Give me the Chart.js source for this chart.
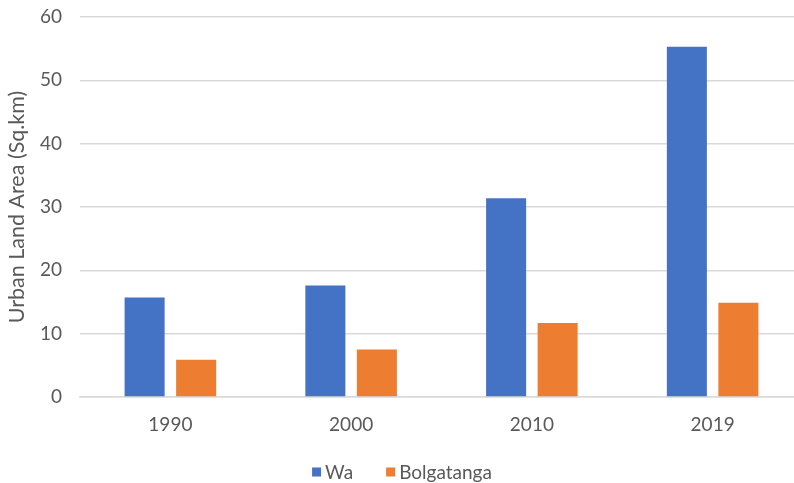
<!DOCTYPE html>
<html>
<head>
<meta charset="utf-8">
<script src="https://cdn.jsdelivr.net/npm/chart.js@4"></script>
<style>
  html, body { margin: 0; padding: 0; background: #ffffff; overflow: hidden; }
  #wrap { width: 794px; height: 483px; overflow: hidden; position: relative; }
  #box { width: 812px; height: 483px; position: absolute; left: 0; top: 0; }
</style>
</head>
<body>
<div id="wrap"><div id="box"><canvas id="chart"></canvas></div></div>
<script>
// Urban land area by town and year
const years = ['1990', '2000', '2010', '2019'];
const wa = [15.7, 17.6, 31.4, 55.3];
const bolgatanga = [5.9, 7.5, 11.7, 14.9];
const yTicks = [0, 10, 20, 30, 40, 50, 60];

const textColor = '#595959';
const gridColor = '#d9d9d9';
const fontFamily = 'Lato, "Open Sans", sans-serif';
const tickFont = { family: fontFamily, size: 19 };

// Compact legend row under the axis: small square, short gap, label
const bottomLegend = {
  id: 'bottomLegend',
  afterDraw(chart) {
    const ctx = chart.ctx;
    const box = 9, gap = 4, spacing = 33, y = 472;
    ctx.save();
    ctx.font = `${tickFont.size}px ${fontFamily}`;
    ctx.textBaseline = 'middle';
    ctx.textAlign = 'left';
    const items = chart.data.datasets.map(d => ({ label: d.label, color: d.backgroundColor, w: ctx.measureText(d.label).width }));
    const total = items.reduce((s, it) => s + box + gap + it.w, 0) + spacing * (items.length - 1);
    let x = chart.width / 2 - 4 - total / 2;
    items.forEach(it => {
      ctx.fillStyle = it.color;
      ctx.fillRect(x, y - box / 2, box, box);
      x += box + gap;
      ctx.fillStyle = textColor;
      ctx.fillText(it.label, x, y + 1);
      x += it.w + spacing;
    });
    ctx.restore();
  }
};

new Chart(document.getElementById('chart'), {
  type: 'bar',
  data: {
    labels: years,
    datasets: [
      { label: 'Wa', data: wa, backgroundColor: '#4472C4', categoryPercentage: 0.57, barPercentage: 0.777 },
      { label: 'Bolgatanga', data: bolgatanga, backgroundColor: '#ED7D31', categoryPercentage: 0.57, barPercentage: 0.777 }
    ]
  },
  options: {
    responsive: true,
    maintainAspectRatio: false,
    animation: false,
    layout: { padding: { top: 0, right: 9, left: 0, bottom: 0 } },
    plugins: {
      tooltip: { enabled: false },
      legend: { display: false }
    },
    scales: {
      x: {
        grid: { display: false, drawTicks: false },
        border: { display: true, color: gridColor, width: 1.5 },
        ticks: { color: textColor, font: tickFont, padding: 16 },
        afterFit: (s) => { s.height = 86; }
      },
      y: {
        min: 0,
        max: 60,
        afterBuildTicks: (s) => { s.ticks = yTicks.map(v => ({ value: v })); },
        grid: { color: gridColor, lineWidth: 1.5, drawTicks: false },
        border: { display: false },
        ticks: { color: textColor, font: tickFont, padding: 18 },
        title: {
          display: true,
          text: 'Urban Land Area (Sq.km)',
          color: textColor,
          font: { family: fontFamily, size: 21.5 },
          padding: { top: 4, bottom: 0 }
        },
        afterFit: (s) => { s.width = 80; s.paddingTop = 17; s.paddingBottom = 0; }
      }
    }
  },
  plugins: [bottomLegend]
});
</script>
</body>
</html>
